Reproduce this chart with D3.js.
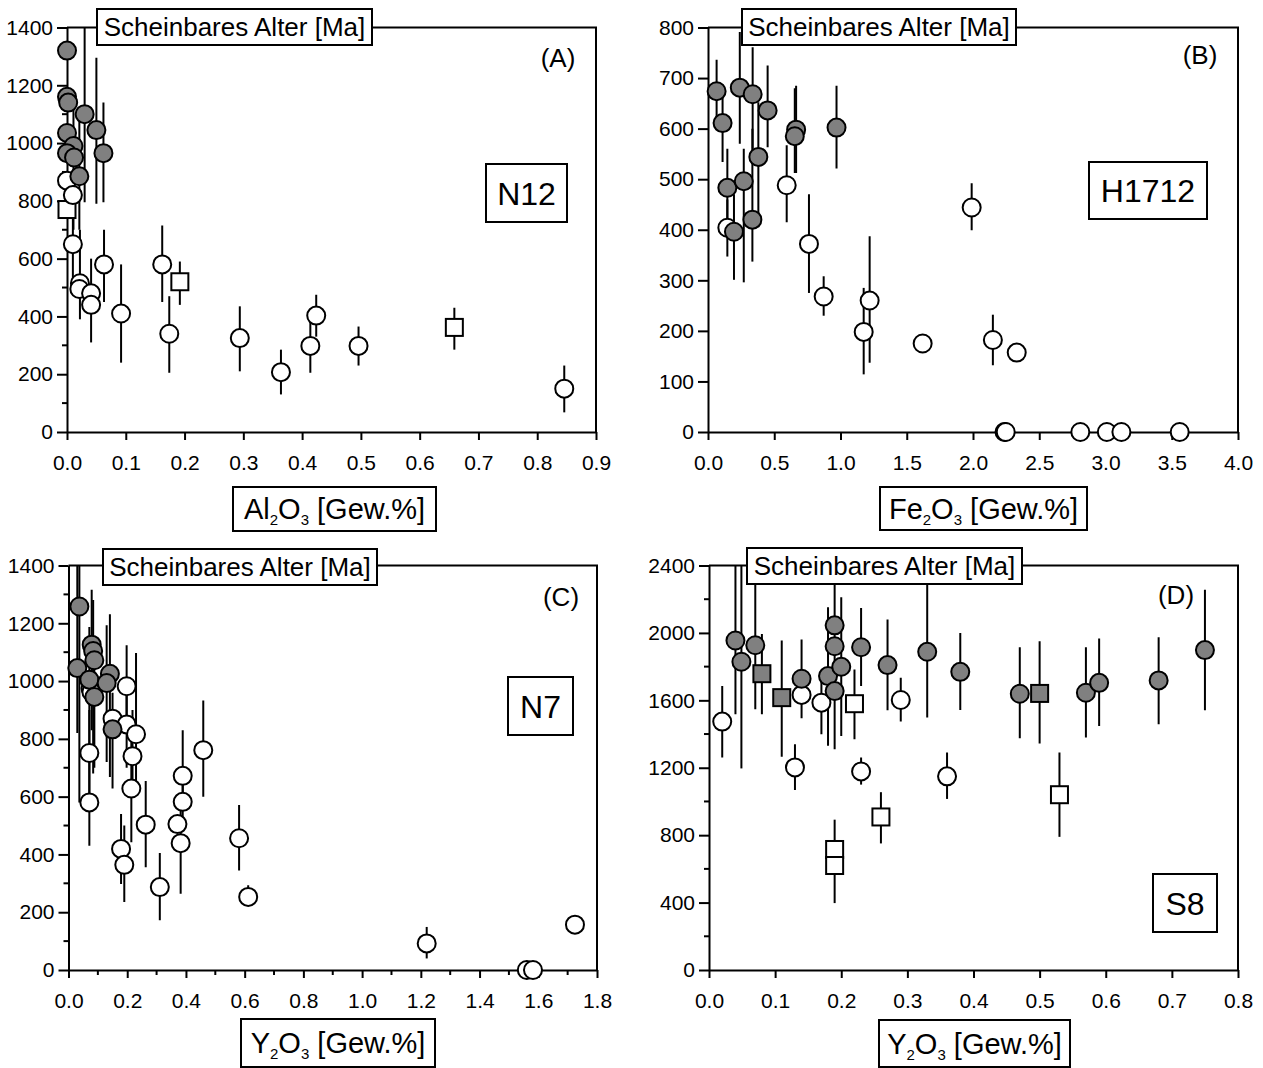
<!DOCTYPE html>
<html><head><meta charset="utf-8">
<script src="https://cdn.jsdelivr.net/npm/d3@7"></script>
<style>
body{margin:0;background:#fff}
svg{display:block}
text{font-family:"Liberation Sans",Arial,Helvetica,sans-serif;fill:#000}
</style>
</head><body><svg id="c" width="1263" height="1068"></svg>
<script>
// ---------- DATA: [x, age, errLow, errHigh] ----------
// Panel A  (N12, Al2O3)
const aGray = [[0.000,1320,1240,1400],[0.000,1160,1080,1400],[0.002,1140,null,null],[0.000,1035,null,null],
  [0.011,990,700,1180],[0.000,965,null,null],[0.012,950,null,null],[0.021,885,700,1100],
  [0.030,1100,795,1400],[0.050,1045,790,1295],[0.062,965,795,1140]];
const aOpen = [[0.000,870,null,null],[0.010,820,null,null],[0.010,650,500,780],[0.022,515,390,700],[0.021,495,null,null],
  [0.041,480,null,null],[0.041,440,310,600],[0.063,580,450,700],[0.092,410,240,580],[0.162,580,450,715],
  [0.174,340,205,470],[0.294,325,210,435],[0.364,207,130,285],[0.414,298,205,400],[0.424,403,330,475],
  [0.496,298,230,365],[0.846,150,68,230]];
const aOpenSq = [[0.000,770,null,null],[0.192,520,440,590],[0.659,362,285,430]];
const aGraySq = [];
// Panel B  (H1712, Fe2O3)
const bGray = [[0.065,674,616,736],[0.110,611,534,680],[0.146,483,400,560],[0.196,396,301,470],[0.240,681,570,791],
  [0.270,496,296,560],[0.337,668,560,761],[0.335,420,337,600],[0.380,544,405,652],[0.450,636,563,725],
  [0.665,598,512,685],[0.655,585,512,680],[0.970,602,521,685]];
const bOpen = [[0.146,404,347,460],[0.594,488,415,567],[0.762,372,275,470],[0.873,268,230,308],[1.175,198,114,285],
  [1.220,260,137,387],[1.620,175,null,null],[1.990,444,399,492],[2.150,182,132,232],[2.330,157,null,null],
  [2.238,0,null,null],[2.247,0,null,null],[2.810,0,null,null],[3.010,0,null,null],[3.120,0,null,null],[3.560,0,null,null]];
const bOpenSq = [];
const bGraySq = [];
// Panel C  (N7, Y2O3)
const cGray = [[0.037,1258,580,1400],[0.030,1045,820,1400],[0.079,1126,830,1316],[0.084,1104,680,1281],[0.088,1072,null,null],
  [0.141,1025,668,1231],[0.071,1005,720,1187],[0.130,993,720,1193],[0.088,945,700,1150],[0.150,833,628,960]];
const cOpen = [[0.075,975,null,null],[0.078,962,null,null],[0.150,870,null,null],[0.198,982,850,1124],[0.198,850,700,980],
  [0.230,816,650,1097],[0.218,740,600,900],[0.071,751,580,900],[0.214,628,442,800],[0.071,580,430,750],
  [0.389,672,582,830],[0.389,582,500,680],[0.459,761,600,933],[0.179,419,298,540],[0.190,364,235,500],
  [0.263,503,356,654],[0.311,287,172,405],[0.371,505,null,null],[0.382,439,264,608],[0.581,456,344,571],
  [0.612,253,224,293],[1.220,92,40,149],[1.561,0,null,null],[1.582,0,null,null],[1.725,157,null,null]];
const cOpenSq = [];
const cGraySq = [];
// Panel D  (S8, Y2O3)
const dGray = [[0.040,1955,1517,2400],[0.049,1829,1196,2400],[0.070,1927,1547,2400],[0.140,1728,1494,1961],
  [0.180,1744,1330,2152],[0.190,2045,1310,2400],[0.190,1921,null,null],[0.190,1655,null,null],[0.200,1799,1389,2211],
  [0.230,1915,1685,2148],[0.270,1809,1541,2079],[0.330,1888,1498,2400],[0.380,1769,1543,2000],[0.470,1639,1375,1915],
  [0.570,1645,1379,1915],[0.590,1704,1448,1967],[0.680,1718,1458,1974],[0.750,1898,1541,2256]];
const dGraySq = [[0.080,1758,1517,1994],[0.110,1616,1265,1955],[0.500,1641,1344,1951]];
const dOpen = [[0.020,1474,1261,1685],[0.130,1202,1068,1340],[0.140,1632,null,null],[0.170,1586,1399,1744],
  [0.230,1178,1100,1261],[0.290,1602,1474,1734],[0.360,1149,1015,1291]];
const dOpenSq = [[0.220,1580,1369,1783],[0.190,715,397,892],[0.190,620,null,null],[0.260,908,751,1055],[0.530,1040,790,1291]];

// ticks
const aXTicks = [0,0.1,0.2,0.3,0.4,0.5,0.6,0.7,0.8,0.9];
const aYTicks = [0,200,400,600,800,1000,1200,1400];
const bXTicks = [0,0.5,1,1.5,2,2.5,3,3.5,4];
const bYTicks = [0,100,200,300,400,500,600,700,800];
const cXTicks = [0,0.2,0.4,0.6,0.8,1.0,1.2,1.4,1.6,1.8];
const cYTicks = [0,200,400,600,800,1000,1200,1400];
const dXTicks = [0,0.1,0.2,0.3,0.4,0.5,0.6,0.7,0.8];
const dYTicks = [0,400,800,1200,1600,2000,2400];

const yTitle = "Scheinbares Alter [Ma]";
const panelLetters = ["(A)","(B)","(C)","(D)"];
const sampleNames = ["N12","H1712","N7","S8"];
const xTitles = [["Al","2","O","3"," [Gew.%]"],["Fe","2","O","3"," [Gew.%]"],["Y","2","O","3"," [Gew.%]"],["Y","2","O","3"," [Gew.%]"]];

// ---------- LAYOUT ----------
const panels = [
 {id:"A", gray:aGray, open:aOpen, openSq:aOpenSq, graySq:aGraySq, xd:[0,0.9], yd:[0,1400], xt:aXTicks, yt:aYTicks, xMinor:[], yMinor:[100,300,500,700,900,1100,1300], xfmt:".1f",
  left:67, right:596, top:27.5, bottom:432, box:[97,372,9,45], letter:[558,58], name:[486,567,164,222], xbox:[233,436,487,531]},
 {id:"B", gray:bGray, open:bOpen, openSq:bOpenSq, graySq:bGraySq, xd:[0,4], yd:[0,800], xt:bXTicks, yt:bYTicks, xMinor:[], yMinor:[], xfmt:".1f",
  left:708, right:1238, top:27.5, bottom:432, box:[742,1016,9,45], letter:[1200,55], name:[1089,1207,162,219], xbox:[880,1087,487,530]},
 {id:"C", gray:cGray, open:cOpen, openSq:cOpenSq, graySq:cGraySq, xd:[0,1.8], yd:[0,1400], xt:cXTicks, yt:cYTicks, xMinor:[0.1,0.3,0.5,0.7,0.9,1.1,1.3,1.5,1.7], yMinor:[100,300,500,700,900,1100,1300], xfmt:".1f",
  left:68.5, right:597, top:565.5, bottom:970, box:[103,377,549,585], letter:[561,597], name:[508,573,677,735], xbox:[241,435,1019,1067]},
 {id:"D", gray:dGray, open:dOpen, openSq:dOpenSq, graySq:dGraySq, xd:[0,0.8], yd:[0,2400], xt:dXTicks, yt:dYTicks, xMinor:[], yMinor:[200,600,1000,1400,1800,2200], xfmt:".1f",
  left:709, right:1238, top:565.5, bottom:970, box:[747,1022,548,584], letter:[1176,595], name:[1153,1217,874,932], xbox:[879,1070,1020,1067]}
];

const svg = d3.select("#c");
svg.append("rect").attr("width",1263).attr("height",1068).attr("fill","#fff");
const defs = svg.append("defs");
const GRAY = "#808080";
const R = 9, SQ = 17;

panels.forEach((p,i)=>{
  const x = d3.scaleLinear().domain(p.xd).range([p.left,p.right]);
  const y = d3.scaleLinear().domain(p.yd).range([p.bottom,p.top]);
  const g = svg.append("g");
  defs.append("clipPath").attr("id","clip"+p.id).append("rect")
    .attr("x",p.left).attr("y",p.top).attr("width",p.right-p.left).attr("height",p.bottom-p.top);

  // frame (top + right)
  g.append("path").attr("d",`M${p.left},${p.top}H${p.right}V${p.bottom}`)
    .attr("fill","none").attr("stroke","#000").attr("stroke-width",2);

  // y axis
  const ya = g.append("g").attr("transform",`translate(${p.left},0)`)
    .call(d3.axisLeft(y).tickValues(p.yt).tickSize(10).tickSizeOuter(0).tickPadding(4).tickFormat(d3.format("d")));
  ya.selectAll("line").attr("stroke-width",2);
  ya.select(".domain").attr("stroke-width",2);
  ya.selectAll("text").attr("font-size",21).attr("font-family",'"Liberation Sans",Arial,sans-serif');
  g.append("g").selectAll("line").data(p.yMinor).join("line")
    .attr("x1",p.left-5).attr("x2",p.left).attr("y1",d=>y(d)).attr("y2",d=>y(d)).attr("stroke","#000").attr("stroke-width",2);

  // x axis
  const xa = g.append("g").attr("transform",`translate(0,${p.bottom})`)
    .call(d3.axisBottom(x).tickValues(p.xt).tickSize(8).tickSizeOuter(0).tickPadding(15).tickFormat(d3.format(p.xfmt)));
  xa.selectAll("line").attr("stroke-width",2);
  xa.select(".domain").attr("stroke-width",2);
  xa.selectAll("text").attr("font-size",21).attr("font-family",'"Liberation Sans",Arial,sans-serif');
  g.append("g").selectAll("line").data(p.xMinor).join("line")
    .attr("x1",d=>x(d)).attr("x2",d=>x(d)).attr("y1",p.bottom).attr("y2",p.bottom+5).attr("stroke","#000").attr("stroke-width",2);

  // error bars
  const all = [].concat(p.open,p.openSq,p.gray,p.graySq).filter(d=>d[2]!==null);
  g.append("g").attr("clip-path",`url(#clip${p.id})`).selectAll("line").data(all).join("line")
    .attr("x1",d=>x(d[0])).attr("x2",d=>x(d[0])).attr("y1",d=>y(d[2])).attr("y2",d=>y(d[3]))
    .attr("stroke","#000").attr("stroke-width",2);

  // markers
  const mk = g.append("g");
  mk.selectAll("rect.os").data(p.openSq).join("rect").attr("class","os")
    .attr("x",d=>x(d[0])-SQ/2).attr("y",d=>y(d[1])-SQ/2).attr("width",SQ).attr("height",SQ)
    .attr("fill","#fff").attr("stroke","#000").attr("stroke-width",2);
  mk.selectAll("circle.o").data(p.open).join("circle").attr("class","o")
    .attr("cx",d=>x(d[0])).attr("cy",d=>y(d[1])).attr("r",R)
    .attr("fill","#fff").attr("stroke","#000").attr("stroke-width",2);
  mk.selectAll("rect.gs").data(p.graySq).join("rect").attr("class","gs")
    .attr("x",d=>x(d[0])-SQ/2).attr("y",d=>y(d[1])-SQ/2).attr("width",SQ).attr("height",SQ)
    .attr("fill",GRAY).attr("stroke","#000").attr("stroke-width",2);
  mk.selectAll("circle.g").data(p.gray).join("circle").attr("class","g")
    .attr("cx",d=>x(d[0])).attr("cy",d=>y(d[1])).attr("r",R)
    .attr("fill",GRAY).attr("stroke","#000").attr("stroke-width",2);

  // y title box
  const b = p.box;
  g.append("rect").attr("x",b[0]).attr("y",b[2]).attr("width",b[1]-b[0]).attr("height",b[3]-b[2])
    .attr("fill","#fff").attr("stroke","#000").attr("stroke-width",2);
  g.append("text").attr("x",(b[0]+b[1])/2).attr("y",(b[2]+b[3])/2).attr("dy","0.35em")
    .attr("text-anchor","middle").attr("font-size",26).text(yTitle);

  // panel letter
  g.append("text").attr("x",p.letter[0]).attr("y",p.letter[1]).attr("dy","0.35em")
    .attr("text-anchor","middle").attr("font-size",26).text(panelLetters[i]);

  // sample name box
  const n = p.name;
  g.append("rect").attr("x",n[0]).attr("y",n[2]).attr("width",n[1]-n[0]).attr("height",n[3]-n[2])
    .attr("fill","#fff").attr("stroke","#000").attr("stroke-width",2);
  g.append("text").attr("x",(n[0]+n[1])/2).attr("y",(n[2]+n[3])/2).attr("dy","0.36em")
    .attr("text-anchor","middle").attr("font-size",32).text(sampleNames[i]);

  // x title box
  const xb = p.xbox;
  g.append("rect").attr("x",xb[0]).attr("y",xb[2]).attr("width",xb[1]-xb[0]).attr("height",xb[3]-xb[2])
    .attr("fill","#fff").attr("stroke","#000").attr("stroke-width",2);
  const t = g.append("text").attr("x",(xb[0]+xb[1])/2).attr("y",(xb[2]+xb[3])/2).attr("dy","0.36em")
    .attr("text-anchor","middle").attr("font-size",29);
  const parts = xTitles[i];
  t.append("tspan").text(parts[0]);
  t.append("tspan").attr("font-size",15).attr("dy",6).text(parts[1]);
  t.append("tspan").attr("dy",-6).text(parts[2]);
  t.append("tspan").attr("font-size",15).attr("dy",6).text(parts[3]);
  t.append("tspan").attr("dy",-6).text(parts[4]);
});
</script>
</body></html>
